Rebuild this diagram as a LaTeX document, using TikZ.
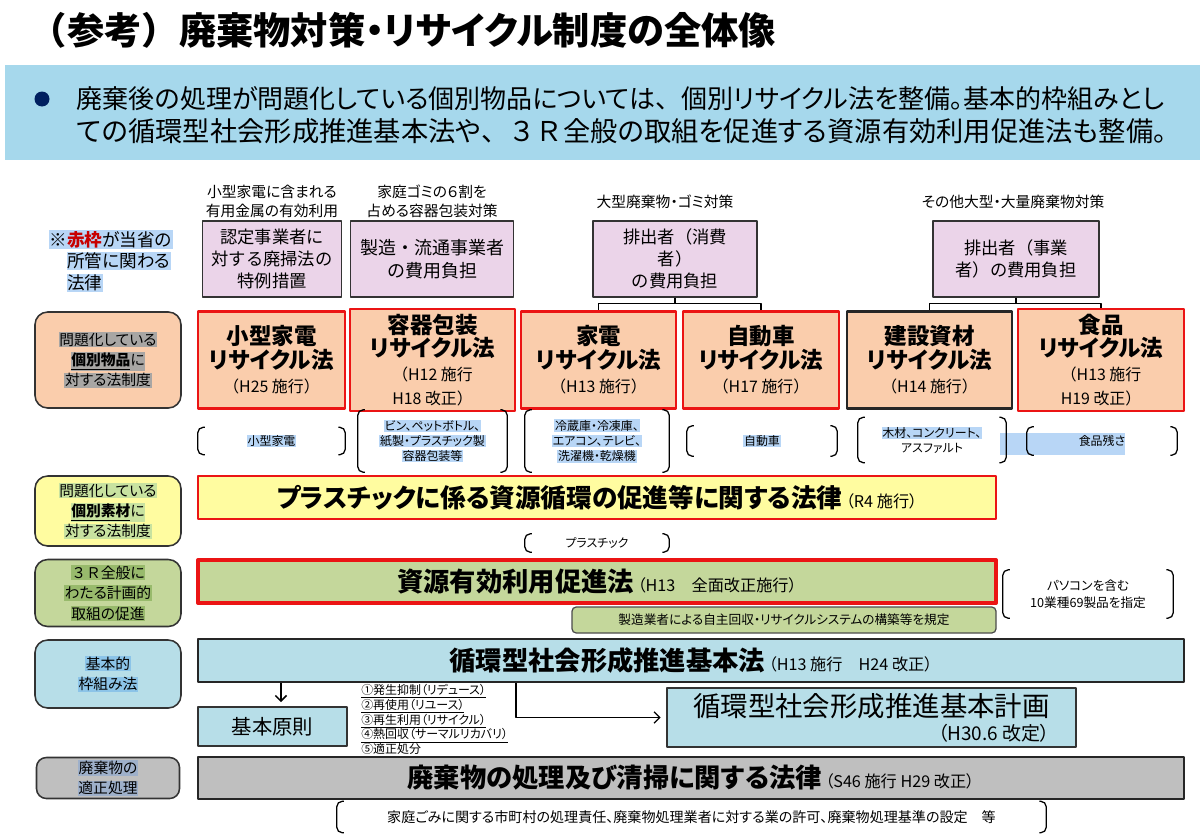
\documentclass[tikz,border=0pt]{standalone}
\usepackage{fontspec}
\setmainfont{Noto Sans CJK JP}[RawFeature=+palt]
\newfontfamily\fullw{Noto Sans CJK JP}
\usetikzlibrary{arrows.meta}

\definecolor{bannerblue}{RGB}{166,216,236}
\definecolor{navy}{RGB}{0,32,96}
\definecolor{pinkfill}{RGB}{235,212,233}
\definecolor{peach}{RGB}{250,205,172}
\definecolor{lawred}{RGB}{235,20,20}
\definecolor{paleyellow}{RGB}{255,252,160}
\definecolor{olive}{RGB}{196,215,155}
\definecolor{skyfill}{RGB}{183,222,232}
\definecolor{grayfill}{RGB}{191,191,191}
\definecolor{selblue}{RGB}{184,214,246}
\definecolor{hlgray}{RGB}{168,166,164}
\definecolor{hlgreen}{RGB}{200,226,160}
\definecolor{hlolive}{RGB}{152,186,108}
\definecolor{hlblue}{RGB}{140,196,232}
\definecolor{hlslate}{RGB}{158,176,202}
\definecolor{notered}{RGB}{200,0,0}

\newcommand\px{0.025cm}
\newcommand\fs[2]{\fontsize{#1}{#2}\selectfont}
\newcommand\hl[2]{{\setlength{\fboxsep}{0.6pt}\colorbox{#1}{#2}}}
\newcommand\lawname{\normalfont\bfseries\fs{16}{19}}
\newcommand\lawbig{\bfseries\fs{18.7}{22}}
\newcommand\brackets[1]{%
  \draw[brk] ([xshift=5pt]#1.north west) -- (#1.north west) -- (#1.south west) -- ([xshift=5pt]#1.south west);
  \draw[brk] ([xshift=-5pt]#1.north east) -- (#1.north east) -- (#1.south east) -- ([xshift=-5pt]#1.south east);}
\tikzset{sz/.style 2 args={minimum width=#1*\px, minimum height=#2*\px}}

\begin{document}
\begin{tikzpicture}[x=\px, y=-\px, line join=round,
  lbl/.style={draw=black!80, line width=1.1pt, rounded corners=9pt, align=center, font=\fs{10.5}{14.5}, inner sep=0pt},
  captxt/.style={align=center, font=\fs{10.5}{13.5}},
  pinkbox/.style={draw=black!80, line width=1pt, fill=pinkfill, align=center, font=\fullw\fs{12.3}{15.5}},
  lawbox/.style={draw=lawred, line width=1.6pt, fill=peach, align=center, font=\fullw\fs{11.3}{17}},
  bigbox/.style={draw=black!85, line width=1.6pt, align=center, font=\fs{11.5}{14}},
  items/.style={align=center, font=\fs{8.5}{10.8}, inner sep=0pt},
  brk/.style={rounded corners=4pt, line width=0.9pt},
  tree/.style={line width=0.9pt},
  arr/.style={line width=1.1pt, -{Straight Barb[length=4pt, width=8pt]}}]
\useasboundingbox (0,0) rectangle (1200,835);

% heading and lead text
\node[anchor=west, font=\bfseries\fs{26.5}{30}] (title) at (25,30) {{\fullw （参考）}廃棄物対策・リサイクル制度の全体像};
\node[fill=bannerblue, anchor=north west, sz={1195}{95}] (banner) at (5,65) {};
\node[circle, fill=navy, inner sep=0pt, minimum size=15*\px] (dot) at (42,99) {};
\node[anchor=west, font=\fs{18.5}{22}] (lead1) at (72,99) {廃棄後の処理が問題化している個別物品については{\fullw 、}個別リサイクル法を整備。基本的枠組みとし};
\node[anchor=west, font=\fs{19.4}{22}] (lead2) at (72,131) {ての循環型社会形成推進基本法や{\fullw 、３Ｒ}全般の取組を促進する資源有効利用促進法も整備。};

% left column
\node[anchor=west, align=left, font=\fs{12.5}{15.5}] (note) at (44,261) {\hl{selblue}{※\textcolor{notered}{\bfseries 赤枠}が当省の}\\\phantom{※}\hl{selblue}{所管に関わる}\\\phantom{※}\hl{selblue}{法律}};
\node[lbl, fill=peach, sz={146}{96}] (lab1) at (108,360) {\hl{hlgray}{問題化している}\\\hl{hlgray}{\textbf{\underline{個別物品}}に}\\\hl{hlgray}{対する法制度}};
\node[lbl, fill=paleyellow, sz={146}{70}] (lab2) at (108,511) {\hl{hlgreen}{問題化している}\\\hl{hlgreen}{\textbf{\underline{個別素材}}に}\\\hl{hlgreen}{対する法制度}};
\node[lbl, fill=olive, sz={146}{67}] (lab3) at (108,593) {\hl{hlolive}{{\fullw ３Ｒ}全般に}\\\hl{hlolive}{わたる計画的}\\\hl{hlolive}{取組の促進}};
\node[lbl, fill=skyfill, sz={146}{68}] (lab4) at (108,674) {\hl{hlblue}{基本的}\\\hl{hlblue}{枠組み法}};
\node[lbl, fill=grayfill, sz={143}{41}, rounded corners=7pt] (lab5) at (108,778) {\hl{hlslate}{廃棄物の}\\\hl{hlslate}{適正処理}};

% captions and cost bearers
\node[captxt] (cap1) at (272,201) {小型家電に含まれる\\有用金属の有効利用};
\node[captxt] (cap2) at (432,201) {家庭ゴミの６割を\\占める容器包装対策};
\node[captxt] (cap3) at (665,202) {大型廃棄物・ゴミ対策};
\node[captxt] (cap4) at (1013,202) {その他大型・大量廃棄物対策};
\node[pinkbox, sz={139}{76}] (p1) at (272,259) {認定事業者に\\対する廃掃法の\\特例措置};
\node[pinkbox, sz={163}{76}, font=\fullw\fs{12.8}{16}] (p2) at (432,259) {製造・流通事業者\\の費用負担};
\node[pinkbox, sz={164}{76}] (p3) at (675,259) {排出者（消費\\者）\\の費用負担};
\node[pinkbox, sz={166}{76}] (p4) at (1016,259) {排出者（事業\\者）の費用負担};

% individual recycling laws
\node[lawbox, sz={147}{97}] (kogata) at (271.5,360) {{\lawname 小型家電}\\{\lawname リサイクル法}\\（H25 施行）};
\node[lawbox, sz={165}{97}] (youki) at (432.5,360) {{\lawname 容器包装}\\{\lawname リサイクル法}\\（H12 施行\\H18 改正）};
\node[lawbox, sz={155}{97}] (kaden) at (598.5,360) {{\lawname 家電}\\{\lawname リサイクル法}\\（H13 施行）};
\node[lawbox, sz={156}{97}] (jidosha) at (761,360) {{\lawname 自動車}\\{\lawname リサイクル法}\\（H17 施行）};
\node[lawbox, draw=black!85, line width=2pt, sz={165}{97}] (kensetsu) at (929.5,360) {{\lawname 建設資材}\\{\lawname リサイクル法}\\（H14 施行）};
\node[lawbox, sz={166}{97}] (shokuhin) at (1101,360) {{\lawname 食品}\\{\lawname リサイクル法}\\（H13 施行\\H19 改正）};

\draw[tree] (p3.south) -- ++(0,6) -| (kaden.north);
\draw[tree] (p3.south) ++(0,6) -| (jidosha.north);
\draw[tree] (p4.south) -- ++(0,6) -| (kensetsu.north);
\draw[tree] (p4.south) ++(0,6) -| (shokuhin.north);

% target items
\fill[selblue] (1000,433) rectangle (1125,455);
\node[items, sz={147}{27}] (it1) at (271.5,441) {\hl{selblue}{小型家電}};
\node[items, sz={149}{62}] (it2) at (432.5,441) {\hl{selblue}{ビン、ペットボトル、}\\\hl{selblue}{紙製・プラスチック製}\\\hl{selblue}{容器包装等}};
\node[items, sz={144}{62}] (it3) at (597,441) {\hl{selblue}{冷蔵庫・冷凍庫、}\\\hl{selblue}{エアコン、テレビ、}\\\hl{selblue}{洗濯機・乾燥機}};
\node[items, sz={150}{30}] (it4) at (762,441) {\hl{selblue}{自動車}};
\node[items, sz={148}{45}] (it5) at (932,440) {\hl{selblue}{木材、コンクリート、}\\アスファルト};
\node[items, sz={150}{28}] (it6) at (1102,441) {食品残さ};
\brackets{it1}
\brackets{it2}
\brackets{it3}
\brackets{it4}
\brackets{it5}
\brackets{it6}

% material and 3R laws
\node[bigbox, draw=lawred, line width=2pt, fill=paleyellow, sz={798}{43}] (plastic) at (597,497.5) {{\bfseries\fs{18.2}{22}プラスチックに係る資源循環の促進等に関する法律}\ （R4 施行）};
\node[items, sz={144}{18}] (it7) at (597,543) {プラスチック};
\brackets{it7}
\node[bigbox, draw=lawred, line width=2.8pt, fill=olive, sz={798}{43}] (shigen) at (597,581.5) {{\lawbig 資源有効利用促進法}\ （H13　全面改正施行）};
\node[draw=black!70, line width=0.9pt, rounded corners=3pt, fill=olive, sz={424}{26}, font=\fs{9}{11}] (jishu) at (784,620) {製造業者による自主回収・リサイクルシステムの構築等を規定};
\node[items, font=\fs{9}{12}, sz={170}{48}] (it8) at (1088,594) {パソコンを含む\\10業種69製品を指定};
\brackets{it8}

% basic framework
\node[bigbox, fill=skyfill, sz={986}{43}] (junkan) at (691,660.5) {{\lawbig 循環型社会形成推進基本法}\ （H13 施行　H24 改正）};
\node[draw=black!80, line width=0.9pt, fill=skyfill, sz={149}{39}, font=\fs{14.5}{16}] (kihon) at (272.5,726.5) {基本原則};
\node[anchor=north west, align=left, font=\fs{8.5}{10.5}, inner sep=0pt] (rules) at (361,684) {\underline{①発生抑制（リデュース）}\\\underline{②再使用（リユース）}\\\underline{③再生利用（リサイクル）}\\\underline{④熱回収（サーマルリカバリ）}\\\underline{⑤適正処分}};
\node[draw=black!80, line width=1.1pt, fill=skyfill, sz={409}{59}, align=right, font=\fs{13.5}{17}] (plan) at (871.5,717.5) {{\fs{19.5}{22}循環型社会形成推進基本計画}\\（H30.6 改定）};
\coordinate (split) at (516,0);
\draw[arr] ([xshift=6pt]kihon.north |- junkan.south) -- ([xshift=6pt, yshift=3pt]kihon.north);
\draw[arr, line width=0.9pt, shorten >=4pt] (junkan.south -| split) |- (plan.west);

% waste management
\node[bigbox, fill=grayfill, sz={986}{42}] (haiki) at (691,778) {{\lawbig 廃棄物の処理及び清掃に関する法律}\ （S46 施行 H29 改正）};
\node[items, font=\fs{10}{12}, sz={709}{31}] (it9) at (691.5,817) {家庭ごみに関する市町村の処理責任、廃棄物処理業者に対する業の許可、廃棄物処理基準の設定　等};
\brackets{it9}
\end{tikzpicture}
\end{document}
